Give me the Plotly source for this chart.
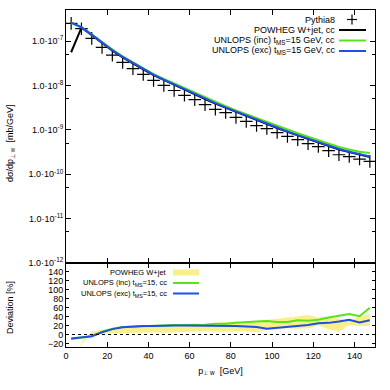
import plotly.graph_objects as go

# bin centres in GeV
pt = [2.5, 7.5, 12.5, 17.5, 22.5, 27.5, 32.5, 37.5, 42.5, 47.5,
      52.5, 57.5, 62.5, 67.5, 72.5, 77.5, 82.5, 87.5, 92.5, 97.5,
      102.5, 107.5, 112.5, 117.5, 122.5, 127.5, 132.5, 137.5, 142.5, 147.5]

pythia8 = [2.5e-7, 1.9e-7, 1.15e-7, 7.2e-8, 4.8e-8, 3.3e-8, 2.4e-8, 1.77e-8, 1.3e-8, 1.0e-8,
           7.7e-9, 6.0e-9, 4.8e-9, 3.7e-9, 2.9e-9, 2.45e-9, 1.9e-9, 1.55e-9, 1.25e-9, 1.07e-9,
           8.7e-10, 7.1e-10, 6.0e-10, 4.9e-10, 4.2e-10, 3.4e-10, 2.75e-10, 2.5e-10, 2.2e-10, 1.95e-10]

powheg = [5.6e-8, 2.0e-7, 1.35e-7, 9.0e-8, 6.1e-8, 4.3e-8, 3.1e-8, 2.3e-8, 1.7e-8, 1.32e-8,
          1.03e-8, 8.0e-9, 6.3e-9, 4.9e-9, 3.9e-9, 3.15e-9, 2.55e-9, 2.05e-9, 1.65e-9, 1.32e-9,
          1.1e-9, 9.0e-10, 7.5e-10, 6.3e-10, 5.4e-10, 4.4e-10, 3.6e-10, 3.15e-10, 2.75e-10, 2.45e-10]

unlops_inc = [2.55e-7, 2.05e-7, 1.4e-7, 9.4e-8, 6.4e-8, 4.5e-8, 3.3e-8, 2.4e-8, 1.8e-8, 1.4e-8,
              1.1e-8, 8.6e-9, 6.8e-9, 5.3e-9, 4.2e-9, 3.4e-9, 2.75e-9, 2.25e-9, 1.85e-9, 1.5e-9,
              1.22e-9, 1.0e-9, 8.4e-10, 7.0e-10, 5.8e-10, 4.9e-10, 4.1e-10, 3.6e-10, 3.2e-10, 3.0e-10]

unlops_exc = [2.6e-7, 2.05e-7, 1.4e-7, 9.3e-8, 6.3e-8, 4.4e-8, 3.2e-8, 2.35e-8, 1.75e-8, 1.35e-8,
              1.05e-8, 8.2e-9, 6.4e-9, 5.0e-9, 4.0e-9, 3.2e-9, 2.6e-9, 2.1e-9, 1.7e-9, 1.35e-9,
              1.12e-9, 9.2e-10, 7.6e-10, 6.3e-10, 5.3e-10, 4.4e-10, 3.7e-10, 3.2e-10, 2.8e-10, 2.5e-10]

# deviation panel (%)
dev_powheg_lo = [-78, -20, 0, 2, 3, 3, 4, 5, 5, 4, 5, 6, 6, 7, 6, 6, 6, 7, 5, 10,
                 12, 14, 13, 14, 20, 12, 6, 22, 19, 19]
dev_powheg_hi = [-78, -17, 7, 10, 14, 17, 17, 18, 18, 20, 21, 24, 25, 24, 26, 28, 29, 28, 30, 33,
                 35, 38, 40, 44, 38, 40, 35, 30, 41, 46]
dev_inc = [-10, -7, -4, 6, 13, 17, 18, 19, 19, 20, 21, 21, 21, 22, 24, 24, 26, 28, 29, 30,
           28, 28, 32, 31, 33, 38, 42, 46, 41, 60]
dev_exc = [-9, -7, -4, 5, 12, 16, 18, 19, 19, 20, 20, 20, 20, 20, 20, 19, 19, 18, 17, 13,
           15, 17, 18, 21, 25, 26, 29, 33, 27, 32]

log_ticks = [1e-7, 1e-8, 1e-9, 1e-10, 1e-11, 1e-12]
log_ticktext = ["1.0·10<sup>-%d</sup>" % e for e in range(7, 13)]
log_minor = [5e-7, 5e-8, 5e-9, 5e-10, 5e-11, 5e-12]
dev_ticks = [-20, 0, 20, 40, 60, 80, 100, 120, 140]

GREEN = "#55e61a"
BLUE = "#1f4fe8"
YELLOW = "#f9f08c"
FONT = "Liberation Sans, Arial, sans-serif"

# plot frame in pixels (used for legend placement)
L, R, T, B = 66, 375, 10, 347
PW, PH = R - L, B - T


def px(xp):
    return (xp - L) / PW


def py(yp):
    return 1 - (yp - T) / PH


fig = go.Figure()

# top panel
fig.add_trace(go.Scatter(x=pt, y=pythia8, mode="markers", xaxis="x2", yaxis="y2",
                         marker=dict(symbol="cross-thin", size=9, line=dict(color="black", width=1.2))))
fig.add_trace(go.Scatter(x=pt, y=powheg, mode="lines", xaxis="x2", yaxis="y2",
                         line=dict(color="black", width=2)))
fig.add_trace(go.Scatter(x=pt, y=unlops_inc, mode="lines", xaxis="x2", yaxis="y2",
                         line=dict(color=GREEN, width=2)))
fig.add_trace(go.Scatter(x=pt, y=unlops_exc, mode="lines", xaxis="x2", yaxis="y2",
                         line=dict(color=BLUE, width=2)))

# bottom panel
fig.add_trace(go.Scatter(x=pt, y=dev_powheg_lo, mode="lines", line=dict(width=0, color=YELLOW)))
fig.add_trace(go.Scatter(x=pt, y=dev_powheg_hi, mode="lines", fill="tonexty",
                         fillcolor=YELLOW, line=dict(width=0, color=YELLOW)))
fig.add_trace(go.Scatter(x=pt, y=dev_inc, mode="lines", line=dict(color=GREEN, width=2)))
fig.add_trace(go.Scatter(x=pt, y=dev_exc, mode="lines", line=dict(color=BLUE, width=2)))

fig.add_shape(type="line", xref="x", yref="y", x0=0, x1=150, y0=0, y1=0,
              line=dict(color="black", width=1.2, dash="dot"))

axis_common = dict(showline=True, linecolor="black", linewidth=1, mirror="ticks",
                   ticks="inside", tickcolor="black", showgrid=False, zeroline=False,
                   automargin=False, tickfont=dict(size=9, color="black", family=FONT))

split = (B - 263) / PH

fig.update_layout(
    width=390, height=390,
    margin=dict(l=L, r=390 - R, t=T, b=390 - B, autoexpand=False),
    plot_bgcolor="white", paper_bgcolor="white",
    showlegend=False,
    font=dict(family=FONT, color="black", size=9),
    xaxis=dict(range=[0, 150], dtick=20, tick0=0, anchor="y", ticklen=5,
               title=dict(text="p<sub>⊥ w</sub>  [GeV]", font=dict(size=9), standoff=7),
               **axis_common),
    yaxis=dict(domain=[0, split], range=[-28, 160], tickvals=dev_ticks, ticklen=3,
               **axis_common),
    xaxis2=dict(range=[0, 150], dtick=20, tick0=0, anchor="y2", showticklabels=False,
                matches="x", ticklen=5, **axis_common),
    yaxis2=dict(domain=[split, 1], type="log", range=[-12, -6.3], anchor="x2", ticklen=5,
                tickvals=log_ticks, ticktext=log_ticktext,
                minor=dict(ticks="inside", ticklen=3, tickcolor="black", tickvals=log_minor),
                **axis_common),
)

# y titles sit at a fixed distance from the left edge, as in gnuplot
fig.add_annotation(x=px(10), y=py(143), xref="paper", yref="paper", textangle=-90,
                   text="dσ/dp<sub>⊥ w</sub>  [mb/GeV]", showarrow=False,
                   xanchor="center", yanchor="middle", font=dict(size=9))
fig.add_annotation(x=px(10), y=py(307), xref="paper", yref="paper", textangle=-90,
                   text="Deviation [%]", showarrow=False,
                   xanchor="center", yanchor="middle", font=dict(size=9))

# top legend (gnuplot style: text on the left, sample on the right)
top_labels = ["Pythia8", "POWHEG W+jet, cc",
              "UNLOPS (inc) t<sub>MS</sub>=15 GeV, cc", "UNLOPS (exc) t<sub>MS</sub>=15 GeV, cc"]
top_colors = [None, "black", GREEN, BLUE]
top_y = [19.5, 30, 40.5, 51]
for lab, col, yy in zip(top_labels, top_colors, top_y):
    fig.add_annotation(x=px(337), y=py(yy), xref="paper", yref="paper", text=lab,
                       showarrow=False, xanchor="right", yanchor="middle", font=dict(size=9))
    if col is None:
        fig.add_shape(type="line", xref="paper", yref="paper", x0=px(347), x1=px(357),
                      y0=py(yy), y1=py(yy), line=dict(color="black", width=1.2))
        fig.add_shape(type="line", xref="paper", yref="paper", x0=px(352), x1=px(352),
                      y0=py(yy + 5), y1=py(yy - 5), line=dict(color="black", width=1.2))
    else:
        fig.add_shape(type="line", xref="paper", yref="paper", x0=px(339), x1=px(366),
                      y0=py(yy), y1=py(yy), line=dict(color=col, width=2))

bot_labels = ["POWHEG W+jet", "UNLOPS (inc) t<sub>MS</sub>=15, cc", "UNLOPS (exc) t<sub>MS</sub>=15, cc"]
bot_colors = [YELLOW, GREEN, BLUE]
bot_y = [272.5, 283, 293.5]
for lab, col, yy in zip(bot_labels, bot_colors, bot_y):
    fig.add_annotation(x=px(169), y=py(yy), xref="paper", yref="paper", text=lab,
                       showarrow=False, xanchor="right", yanchor="middle", font=dict(size=7.5))
    if col == YELLOW:
        fig.add_shape(type="rect", xref="paper", yref="paper", x0=px(173), x1=px(199),
                      y0=py(yy + 3), y1=py(yy - 3), fillcolor=YELLOW, line=dict(width=0))
    else:
        fig.add_shape(type="line", xref="paper", yref="paper", x0=px(173), x1=px(199),
                      y0=py(yy), y1=py(yy), line=dict(color=col, width=2))

# the browser's default 8px body margin would shift the whole figure
fig.write_html("out.html", config={"displayModeBar": False},
               post_script="document.body.style.margin = '0';")
